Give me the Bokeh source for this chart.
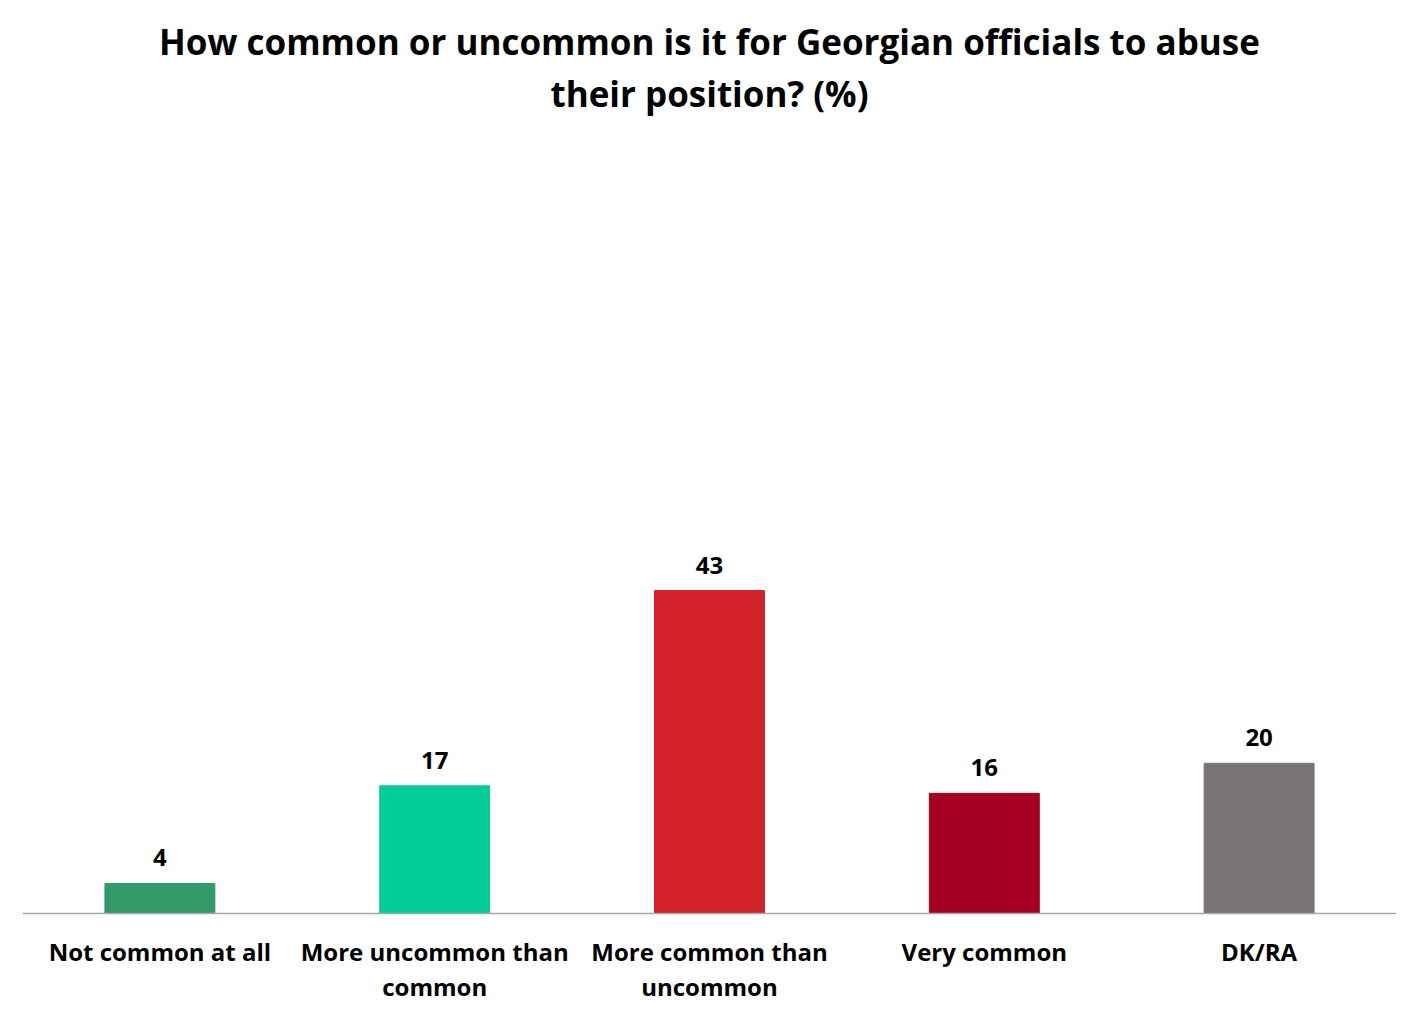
from bokeh.plotting import figure
from bokeh.models import ColumnDataSource, Range1d, LabelSet, Span
from bokeh.core.properties import value
from bokeh.embed import file_html
from bokeh.resources import INLINE

categories = ["Not common at all", "More uncommon than common", "More common than uncommon", "Very common", "DK/RA"]
tick_line1 = ["Not common at all", "More uncommon than", "More common than", "Very common", "DK/RA"]
tick_line2_cats = ["More uncommon than common", "More common than uncommon"]
tick_line2 = ["common", "uncommon"]
values = [4, 17, 43, 16, 20]
colors = ["#339966", "#00CC99", "#D32228", "#A50021", "#787473"]
title_lines = ["How common or uncommon is it for Georgian officials to abuse", "their position? (%)"]

FONT = "Open Sans"
PPU = 7.51          # pixels per percentage point
BASE = 913          # pixel row of the zero line
H = 1020

src = ColumnDataSource(dict(cat=categories, val=values, col=colors,
                            lbl=[str(v) for v in values], tick=tick_line1,
                            zero=[0] * len(values)))
src2 = ColumnDataSource(dict(cat=tick_line2_cats, tick=tick_line2,
                             zero=[0] * len(tick_line2_cats)))
mid = categories[2]
tsrc = ColumnDataSource(dict(cat=[mid, mid], tick=title_lines,
                             y=[(BASE - 41) / PPU, (BASE - 93) / PPU]))

p = figure(x_range=categories, width=1410, height=H, output_backend="svg",
           toolbar_location=None, min_border_left=22, min_border_right=14,
           min_border_bottom=0, min_border_top=0)
p.y_range = Range1d(-(H - BASE) / PPU, BASE / PPU)
p.title = None

p.vbar(x="cat", top="val", width=0.4, color="col", source=src)

p.add_layout(Span(location=0, dimension="width", line_color="#A6A6A6", line_width=1.5))

p.add_layout(LabelSet(x="cat", y="y", text="tick", source=tsrc, text_align="center",
                      text_baseline="middle", text_font=value(FONT),
                      text_font_size=value("35px"), text_font_style="bold",
                      text_color="#000000"))

labels = LabelSet(x="cat", y="val", text="lbl", source=src, text_align="center",
                  text_baseline="bottom", y_offset=17, text_font=value(FONT),
                  text_font_size=value("24px"), text_font_style="bold", text_color="#000000")
p.add_layout(labels)

common = dict(text_align="center", text_baseline="top", text_font=value(FONT),
              text_font_size=value("24px"), text_font_style="bold", text_color="#000000")
p.add_layout(LabelSet(x="cat", y="zero", text="tick", source=src, y_offset=-21, **common))
p.add_layout(LabelSet(x="cat", y="zero", text="tick", source=src2, y_offset=-56, **common))

p.xaxis.visible = False
p.yaxis.visible = False
p.xgrid.visible = False
p.ygrid.visible = False
p.outline_line_color = None
p.x_range.range_padding = 0

open("out.html", "w").write(file_html(p, INLINE))
